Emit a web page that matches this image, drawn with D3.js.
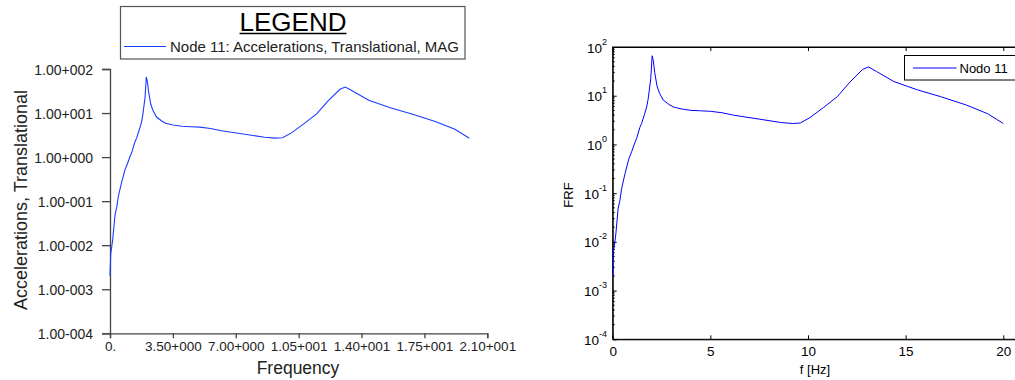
<!DOCTYPE html>
<html>
<head>
<meta charset="utf-8">
<script src="https://cdn.jsdelivr.net/npm/d3@7"></script>
<style>
  body { margin: 0; background: #fff; }
  svg { display: block; font-family: "Liberation Sans", Arial, Helvetica, sans-serif; }
</style>
</head>
<body>
<svg id="chart" width="1015" height="380"></svg>
<script>
// ---- data (frequency in Hz, magnitude) ----
const freq = [0, 0.04, 0.15, 0.28, 0.37, 0.46, 0.63, 0.83, 0.97, 1.11, 1.23, 1.39, 1.48, 1.63, 1.74, 1.81, 1.87, 1.95, 2.02, 2.08, 2.15, 2.27, 2.4, 2.59, 2.88, 3.1, 3.5, 4.0, 4.5, 5.0, 5.6, 6.2, 7.5, 8.6, 9.2, 9.6, 10.1, 10.8, 11.5, 12.15, 12.8, 13.1, 13.5, 14.4, 15.6, 16.8, 18.1, 19.2, 20.0];
const magnitude = [0.0020, 0.0063, 0.0132, 0.049, 0.071, 0.126, 0.251, 0.513, 0.708, 1.02, 1.35, 2.24, 2.69, 4.17, 5.89, 8.32, 12.6, 22.4, 66.1, 52.5, 30.2, 15.8, 11.2, 8.13, 6.61, 5.89, 5.37, 5.01, 4.90, 4.79, 4.47, 3.98, 3.31, 2.82, 2.69, 2.75, 3.55, 5.75, 9.55, 19.1, 34.7, 38.9, 31.6, 19.5, 13.2, 9.55, 6.46, 4.27, 2.69];

// left chart ticks
const leftXTicks = [0, 3.5, 7, 10.5, 14, 17.5, 21];
const leftXLabels = ["0.", "3.50+000", "7.00+000", "1.05+001", "1.40+001", "1.75+001", "2.10+001"];
const leftYTicks = [1e2, 1e1, 1e0, 1e-1, 1e-2, 1e-3, 1e-4];
const leftYLabels = ["1.00+002", "1.00+001", "1.00+000", "1.00-001", "1.00-002", "1.00-003", "1.00-004"];
const leftLegendTitle = "LEGEND";
const leftLegendLabel = "Node 11: Accelerations, Translational, MAG";
const leftXTitle = "Frequency";
const leftYTitle = "Accelerations, Translational";

// right chart ticks
const rightXTicks = [0, 5, 10, 15, 20];
const rightYExponents = [2, 1, 0, -1, -2, -3, -4];
const rightLegendLabel = "Nodo 11";
const rightXTitle = "f [Hz]";
const rightYTitle = "FRF";

const data = freq.map((f, i) => ({ f: f, v: magnitude[i] }));
const svg = d3.select("#chart");

// ================= LEFT CHART =================
{
  const axisColor = "#444";
  const textColor = "#222";
  const x = d3.scaleLinear().domain([0, 21]).range([110, 487.3]);
  const y = d3.scaleLog().domain([1e-4, 1e2]).range([333.3, 69]);
  const g = svg.append("g");

  const yAxis = g.append("g").attr("transform", `translate(${x(0)},0)`)
    .call(d3.axisLeft(y).tickValues(leftYTicks)
      .tickFormat((d, i) => leftYLabels[i]).tickSizeOuter(0).tickSize(8).tickPadding(9));
  yAxis.selectAll("text").attr("font-size", 14).attr("fill", textColor).attr("dy", "0.4em");

  const xAxis = g.append("g").attr("transform", `translate(0,${y(1e-4)})`)
    .call(d3.axisBottom(x).tickValues(leftXTicks)
      .tickFormat((d, i) => leftXLabels[i]).tickSizeOuter(0).tickSize(5).tickPadding(3));
  xAxis.selectAll("text").attr("font-size", 13.5).attr("fill", textColor);

  g.selectAll(".domain, .tick line").attr("stroke", axisColor).attr("stroke-width", 1.3);

  g.append("path").datum(data)
    .attr("fill", "none").attr("stroke", "#1a3cff").attr("stroke-width", 1.1)
    .attr("d", d3.line().x(d => x(d.f)).y(d => y(d.v)));

  g.append("text").attr("x", 298).attr("y", 374).attr("text-anchor", "middle")
    .attr("font-size", 17.5).attr("fill", textColor).text(leftXTitle);
  g.append("text").attr("transform", "translate(27,200) rotate(-90)").attr("text-anchor", "middle")
    .attr("font-size", 18).attr("fill", textColor).text(leftYTitle);

  // legend
  const lg = g.append("g");
  lg.append("rect").attr("x", 120.5).attr("y", 6.5).attr("width", 344.5).attr("height", 52.5)
    .attr("fill", "#fff").attr("stroke", "#555").attr("stroke-width", 1.2);
  const title = lg.append("text").attr("x", 293).attr("y", 31).attr("text-anchor", "middle")
    .attr("font-size", 26).attr("fill", "#000").text(leftLegendTitle);
  const tw = title.node().getComputedTextLength();
  lg.append("line").attr("x1", 293 - tw / 2).attr("x2", 293 + tw / 2).attr("y1", 33.5).attr("y2", 33.5)
    .attr("stroke", "#000").attr("stroke-width", 1.5);
  lg.append("line").attr("x1", 124).attr("x2", 166).attr("y1", 46.5).attr("y2", 46.5)
    .attr("stroke", "#1a3cff").attr("stroke-width", 1.1);
  lg.append("text").attr("x", 170).attr("y", 51.5).attr("font-size", 15).attr("fill", textColor)
    .text(leftLegendLabel);
}

// ================= RIGHT CHART =================
{
  const x = d3.scaleLinear().domain([0, 21]).range([612.7, 1022.8]);
  const y = d3.scaleLog().domain([1e-4, 1e2]).range([339.3, 47]);
  const g = svg.append("g");
  const x0 = x.range()[0], x1 = x.range()[1], y0 = y.range()[0], y1 = y.range()[1];

  // box
  g.append("rect").attr("x", x0).attr("y", y1).attr("width", x1 - x0).attr("height", y0 - y1)
    .attr("fill", "#fff").attr("stroke", "#000").attr("stroke-width", 1);

  // bottom axis with inward ticks
  const bx = g.append("g").attr("transform", `translate(0,${y0})`)
    .call(d3.axisBottom(x).tickValues(rightXTicks).tickFormat(d3.format("d"))
      .tickSizeOuter(0).tickSizeInner(-4).tickPadding(7));
  bx.selectAll("text").attr("font-size", 13.5).attr("fill", "#000");
  // top axis ticks
  const tx = g.append("g").attr("transform", `translate(0,${y1})`)
    .call(d3.axisTop(x).tickValues(rightXTicks).tickFormat("").tickSizeOuter(0).tickSizeInner(-4));
  // left axis major ticks
  const ly = g.append("g").attr("transform", `translate(${x0},0)`)
    .call(d3.axisLeft(y).tickValues(rightYExponents.map(e => Math.pow(10, e))).tickFormat("")
      .tickSizeOuter(0).tickSizeInner(-4));
  g.selectAll(".domain").attr("stroke", "#000");
  g.selectAll(".tick line").attr("stroke", "#000");

  // minor log ticks
  const minor = y.ticks().filter(v => Math.abs(Math.log10(v) - Math.round(Math.log10(v))) > 1e-6);
  g.append("g").selectAll("line").data(minor).join("line")
    .attr("x1", x0).attr("x2", x0 + 2).attr("y1", d => y(d)).attr("y2", d => y(d))
    .attr("stroke", "#000").attr("stroke-width", 1);

  // y tick labels 10^n
  const labs = g.append("g").selectAll("text").data(rightYExponents).join("text")
    .attr("x", 607).attr("y", d => y(Math.pow(10, d)) + 5.5)
    .attr("text-anchor", "end").attr("font-size", 13.5).attr("fill", "#000");
  labs.append("tspan").text("10");
  labs.append("tspan").attr("font-size", 9).attr("dy", -8).text(d => String(d).replace("-", "-"));

  // curve
  g.append("path").datum(data)
    .attr("fill", "none").attr("stroke", "#0000ff").attr("stroke-width", 1)
    .attr("d", d3.line().x(d => x(d.f)).y(d => y(d.v)));

  // legend
  g.append("rect").attr("x", 904.5).attr("y", 55.5).attr("width", 130).attr("height", 24.5)
    .attr("fill", "#fff").attr("stroke", "#000").attr("stroke-width", 1);
  g.append("line").attr("x1", 913).attr("x2", 956.5).attr("y1", 68).attr("y2", 68)
    .attr("stroke", "#0000ff").attr("stroke-width", 1);
  g.append("text").attr("x", 959.5).attr("y", 73).attr("font-size", 13).attr("fill", "#000")
    .text(rightLegendLabel);

  // titles
  g.append("text").attr("x", 815).attr("y", 374).attr("text-anchor", "middle")
    .attr("font-size", 13).attr("fill", "#000").text(rightXTitle);
  g.append("text").attr("transform", "translate(573,195) rotate(-90)").attr("text-anchor", "middle")
    .attr("font-size", 13).attr("fill", "#000").text(rightYTitle);
}
</script>
</body>
</html>
